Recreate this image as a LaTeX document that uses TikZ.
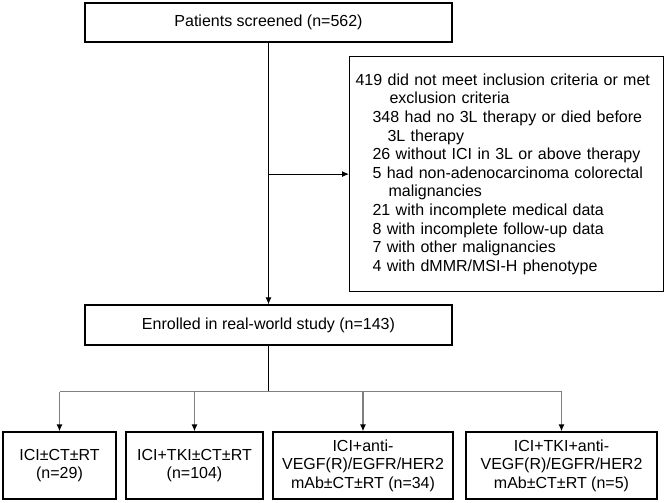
\documentclass[tikz,border=0pt]{standalone}
\usepackage{fontspec}
\setmainfont{Liberation Sans}
\usepackage{tikz}
\usetikzlibrary{arrows,arrows.meta,positioning,calc}

\tikzset{
  flowbox/.style={draw,line width=1.2pt,align=center,inner sep=2pt},
  link/.style={line width=1pt,-{Latex[length=7pt,width=6pt]}},
  stem/.style={draw=gray,line width=1.5pt},
}

\begin{document}
\begin{tikzpicture}[x=1pt,y=1pt,font=\fontsize{16}{18.6}\selectfont]
\useasboundingbox (0,0) rectangle (667,-503);
\node[flowbox,minimum width=367pt,minimum height=39pt] (screened) at (268.5,-22.5) {Patients screened (n=562)};
\node[flowbox,anchor=north west,text width=302pt,minimum height=235pt,inner xsep=6pt,align=left] (excluded) at (349,-56)%
{419 did not meet inclusion criteria or met\\
\hspace*{34pt}exclusion criteria\\
\hspace*{17pt}348 had no 3L therapy or died before\\
\hspace*{32pt}3L therapy\\
\hspace*{17pt}26 without ICI in 3L or above therapy\\
\hspace*{17pt}5 had non-adenocarcinoma colorectal\\
\hspace*{33pt}malignancies\\
\hspace*{17pt}21 with incomplete medical data\\
\hspace*{17pt}8 with incomplete follow-up data\\
\hspace*{17pt}7 with other malignancies\\
\hspace*{17pt}4 with dMMR/MSI-H phenotype};
\node[flowbox,minimum width=367pt,minimum height=40pt] (enrolled) at (268.5,-325) {Enrolled in real-world study (n=143)};
% treatment groups
\node[flowbox,minimum width=113pt,minimum height=67pt] (armA) at (59.5,-465.5) {ICI±CT±RT\\(n=29)};
\node[flowbox,minimum width=137pt,minimum height=67pt] (armB) at (194.5,-465.5) {ICI+TKI±CT±RT\\(n=104)};
\node[flowbox,minimum width=180pt,minimum height=67pt] (armC) at (363,-465.5) {ICI+anti-\\VEGF(R)/EGFR/HER2\\mAb±CT±RT (n=34)};
\node[flowbox,minimum width=191pt,minimum height=67pt] (armD) at (561.5,-465.5) {ICI+TKI+anti-\\VEGF(R)/EGFR/HER2\\mAb±CT±RT (n=5)};

\draw[link] (screened) -- (enrolled);
\draw[link] (screened.south |- excluded.west) -- (excluded.west);
\coordinate (split) at ([yshift=-46pt]enrolled.south);
\draw[line width=1pt] (enrolled.south) -- (split);
\draw[stem] (armA.north |- split) -- (armD.north |- split);
\foreach \arm in {armA,armB,armC,armD}
  \draw[stem,-{Latex[length=7pt,width=6pt,color=black]}] (\arm.north |- split) -- (\arm.north);
\end{tikzpicture}
\end{document}
